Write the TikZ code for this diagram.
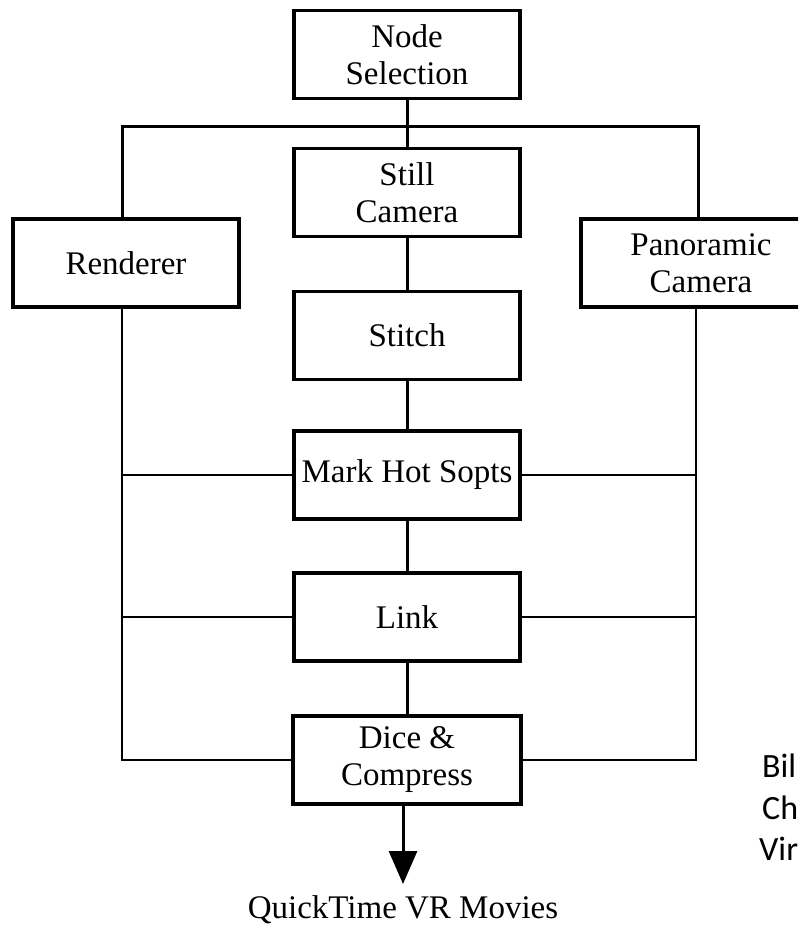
\documentclass[tikz,border=0pt]{standalone}
\usepackage{fontspec}
\setmainfont{Liberation Serif}
\newfontfamily\calibrifont{Carlito}
\usetikzlibrary{arrows.meta}
\begin{document}
\begin{tikzpicture}[x=1pt,y=-1pt,line join=miter,
  box/.style={draw,line width=3.2pt,minimum width=226pt,minimum height=88pt,align=center,inner sep=0pt,font=\fontsize{33}{37}\selectfont},
  conn/.style={line width=3pt},
  side/.style={line width=2.7pt},
  note/.style={anchor=base west,inner sep=0pt,font=\calibrifont\fontsize{34}{40}\selectfont}]
\useasboundingbox (0,0) rectangle (798,928);
\clip (0,0) rectangle (798,928);
\fill[white] (0,0) rectangle (798,928);
% boxes
\node[box] (sel) at (407,54.5) {Node\\Selection};
\node[box] (still) at (407,192.5) {Still\\Camera};
\node[box] (stitch) at (407,335.5) {Stitch};
\node[box] (mark) at (407,475) {Mark Hot Sopts};
\node[box] (link) at (407,617) {Link};
\node[box,minimum width=228pt] (dice) at (407,760) {Dice \&\\Compress};
\node[box] (rend) at (126,263) {Renderer};
\node[box,minimum width=240pt] (pan) at (701,263) {Panoramic\\Camera};
\node[inner sep=0pt,font=\fontsize{33}{37}\selectfont] (out) at (403,910) {QuickTime VR Movies};
% bus
\coordinate (busL) at (122,127);
\coordinate (busR) at (698,127);
\coordinate (botL) at (122,760);
\coordinate (botR) at (696,760);
\draw[conn] (sel.south) -- (still.north);
\draw[conn] (busL |- rend.north) -- (busL) -- (busR) -- (busR |- pan.north);
\draw[conn] (still.south) -- (stitch.north);
\draw[conn] (stitch.south) -- (mark.north);
\draw[conn] (mark.south) -- (link.north);
\draw[conn] (link.south) -- (dice.north);
% side rails
\draw[side] (botL |- rend.south) -- (botL) -- (dice.west);
\draw[side] (botR |- pan.south) -- (botR) -- (dice.east);
\draw[side] (mark.west) -- (botL |- mark.west);
\draw[side] (mark.east) -- (botR |- mark.east);
\draw[side] (link.west) -- (botL |- link.west);
\draw[side] (link.east) -- (botR |- link.east);
% output arrow
\coordinate (tip) at (403,884);
\draw[line width=3pt,-{Triangle[length=33pt,width=28pt]}] (dice.south -| tip) -- (tip);
% clipped side note
\node[note] (n1) at (762,777) {Bil};
\node[note] (n2) at (762,819) {Ch};
\node[note] (n3) at (759,860) {Vir};
\end{tikzpicture}
\end{document}
